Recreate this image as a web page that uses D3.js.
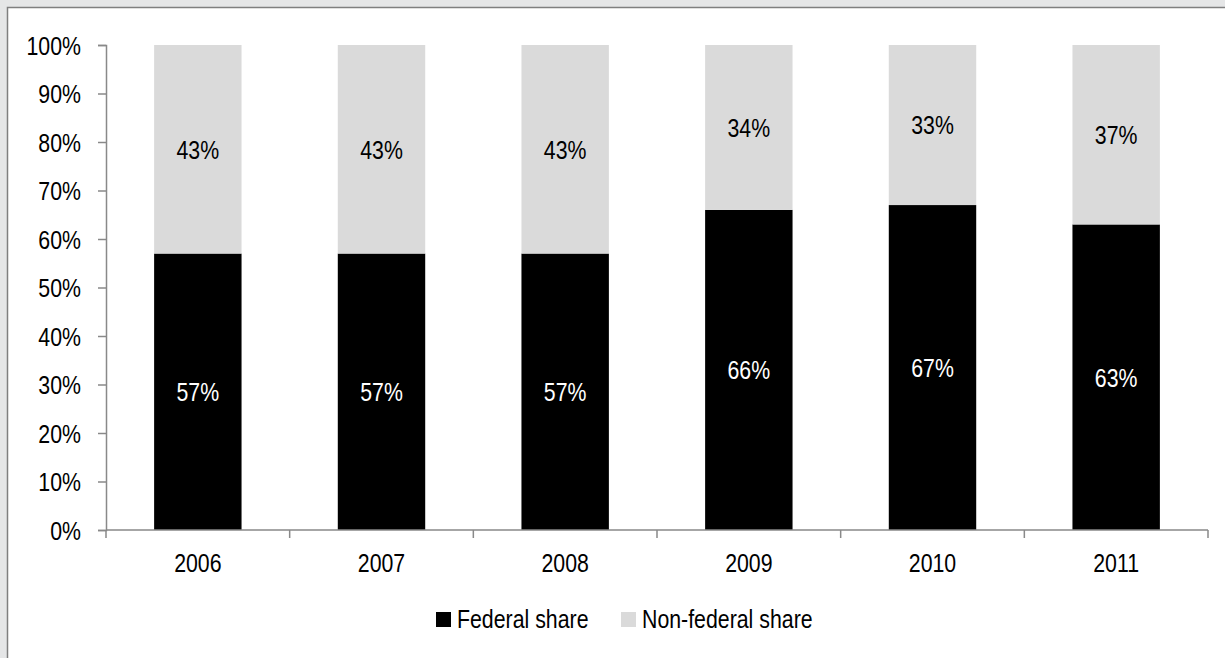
<!DOCTYPE html>
<html>
<head>
<meta charset="utf-8">
<script src="https://cdn.jsdelivr.net/npm/d3@7"></script>
<style>
  html, body { margin: 0; padding: 0; background: #ffffff; overflow: hidden; }
  svg { display: block; }
  text { font-family: "Liberation Sans", Arial, sans-serif; }
</style>
</head>
<body>
<svg id="chart" width="1225" height="658"></svg>
<script>
const years = ["2006", "2007", "2008", "2009", "2010", "2011"];
const federalShare = [57, 57, 57, 66, 67, 63];
const nonFederalShare = [43, 43, 43, 34, 33, 37];
const yTicks = [0, 10, 20, 30, 40, 50, 60, 70, 80, 90, 100];
const seriesNames = ["Federal share", "Non-federal share"];
const seriesColors = ["#000000", "#dadada"];

const W = 1225, H = 658;
const SX = 0.82;          // horizontal condensation (narrow face)
const fontSize = 26;
const svg = d3.select("#chart");

// narrow text helper: places text at (x,y) and condenses horizontally
function narrow(sel, fx, fy) {
  sel.attr("transform", (d, i) => `translate(${fx(d, i)},${fy(d, i)}) scale(${SX},1)`)
     .attr("font-size", fontSize);
  return sel;
}

// outer frame (cropped at right/bottom)
svg.append("rect").attr("x", 0).attr("y", 0).attr("width", W).attr("height", H).attr("fill", "#e5e6e7");
svg.append("rect").attr("x", 7.5).attr("y", 7.5).attr("width", W + 20).attr("height", H + 20)
  .attr("fill", "#ffffff").attr("stroke", "#7f7f7f").attr("stroke-width", 1.5);

const x = d3.scaleBand().domain(years).range([106, 1208]).paddingInner(0.524).paddingOuter(0.262);
const y = d3.scaleLinear().domain([0, 100]).range([530, 45]);

const data = years.map((yr, i) => ({ year: yr, fed: federalShare[i], non: nonFederalShare[i] }));
const stack = d3.stack().keys(["fed", "non"])(data);

// bars
const g = svg.append("g");
stack.forEach((layer, li) => {
  g.selectAll(null).data(layer).enter().append("rect")
    .attr("x", d => x(d.data.year))
    .attr("width", x.bandwidth())
    .attr("y", d => y(d[1]))
    .attr("height", d => y(d[0]) - y(d[1]))
    .attr("fill", seriesColors[li]);
  narrow(g.selectAll(null).data(layer).enter().append("text"),
      d => x(d.data.year) + x.bandwidth() / 2,
      d => (y(d[0]) + y(d[1])) / 2)
    .attr("dy", "0.36em")
    .attr("text-anchor", "middle")
    .attr("fill", li === 0 ? "#ffffff" : "#000000")
    .text(d => (d[1] - d[0]) + "%");
});

// y axis
const yAxis = svg.append("g").attr("transform", "translate(106,0)")
  .call(d3.axisLeft(y).tickValues(yTicks).tickSize(8).tickPadding(17).tickFormat(d => d + "%"));
yAxis.attr("font-family", null).attr("font-size", null);
yAxis.select(".domain").attr("stroke", "#898989").attr("stroke-width", 1.5);
yAxis.selectAll(".tick line").attr("stroke", "#898989").attr("stroke-width", 1.5);
yAxis.selectAll(".tick text")
  .attr("x", -25 / SX)
  .attr("transform", `scale(${SX},1)`)
  .attr("font-size", fontSize).attr("fill", "#000").attr("dy", "0.36em");

// x axis
const bounds = years.map(yr => x(yr) - x.step() * x.paddingInner() / 2);
bounds.push(1208);
const xAxis = svg.append("g");
xAxis.append("line").attr("x1", 106).attr("x2", 1208).attr("y1", 530).attr("y2", 530)
  .attr("stroke", "#898989").attr("stroke-width", 1.5);
xAxis.selectAll(null).data(bounds).enter().append("line")
  .attr("x1", d => d).attr("x2", d => d).attr("y1", 530).attr("y2", 538)
  .attr("stroke", "#898989").attr("stroke-width", 1.5);
narrow(xAxis.selectAll(null).data(years).enter().append("text"),
    d => x(d) + x.bandwidth() / 2, () => 563)
  .attr("dy", "0.36em")
  .attr("text-anchor", "middle").attr("fill", "#000")
  .text(d => d);

// legend
const legend = svg.append("g");
const legendX = [436, 621];
seriesNames.forEach((name, i) => {
  legend.append("rect").attr("x", legendX[i]).attr("y", 612).attr("width", 15).attr("height", 15)
    .attr("fill", seriesColors[i]);
  narrow(legend.append("text"), () => legendX[i] + 21, () => 619)
    .attr("dy", "0.36em").attr("fill", "#000").text(name);
});
</script>
</body>
</html>
